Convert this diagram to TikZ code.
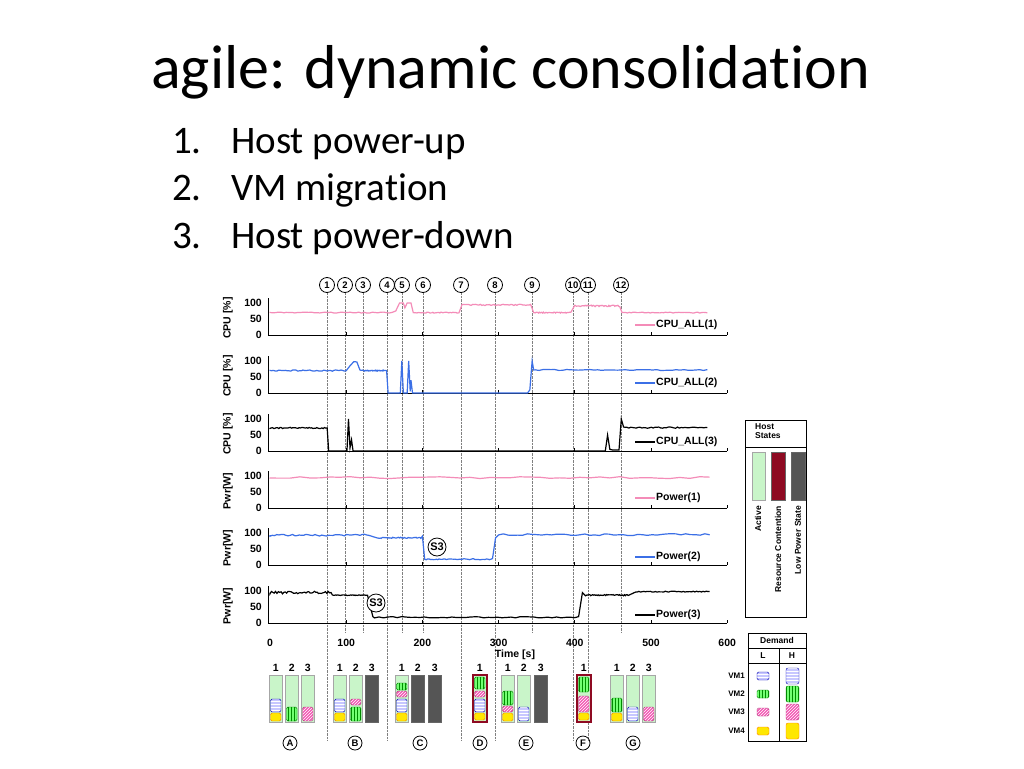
\documentclass[tikz,border=0pt]{standalone}
\usepackage{fontspec}
\setmainfont[Ligatures={NoCommon,NoDiscretionary,NoRare,NoContextual}]{Carlito}
\newfontfamily\hv{Liberation Sans}
\usetikzlibrary{patterns}
\definecolor{cpink}{HTML}{F48CB8}
\definecolor{cblue}{HTML}{3B6FE6}
\definecolor{actv}{HTML}{C9F5C9}
\definecolor{dred}{HTML}{8E0A22}
\definecolor{dgray}{HTML}{555555}
\newcommand\sg[4]{-- plot[domain=#1:#2,samples=45] (\x,{#3+#4*rand})}
\newcommand\blk[4]{\draw[#4,rounded corners=1.5pt] ({#1+1.5},#2) rectangle ({#1+12},#3);}
\begin{document}
\begin{tikzpicture}[x=1pt,y=-1pt,
  lab/.style={font=\hv\bfseries\fontsize{10.5}{11}\selectfont,inner sep=1pt},
  evc/.style={circle,draw,thick,inner sep=0pt,minimum size=15pt,font=\hv\bfseries\fontsize{9.5}{9.5}\selectfont},
  evl/.style={densely dotted,gray,thin},
  vmone/.style={draw=blue!70!black,preaction={fill=blue!22},pattern=horizontal lines,pattern color=white},
  vmtwo/.style={draw=green!50!black,preaction={fill=green!55},pattern=vertical lines,pattern color=green!55!black},
  vmthree/.style={draw=magenta!70!black,preaction={fill=magenta!65},pattern=north east lines,pattern color=white},
  vmfour/.style={draw=orange,fill=yellow!90!orange},
  hostA/.style={draw=gray!70,fill=actv},
  hostL/.style={draw=gray!80!black,fill=dgray},
  hostR/.style={draw=dred,line width=2pt,fill=actv}]
\useasboundingbox (0,0) rectangle (1024,768);
\fill[white] (0,0) rectangle (1024,768);
\node[anchor=base west,font=\fontsize{62}{68}\selectfont,inner sep=0] (title) at (151,88) {agile: dynamic consolidation};
\foreach \i/\yy/\tt in {1/153/Host power-up,2/200/VM migration,3/248/Host power-down}{
  \node[anchor=base west,font=\fontsize{39}{42}\selectfont,inner sep=0] (n\i) at (172,\yy) {\i.};
  \node[anchor=base west,font=\fontsize{39}{42}\selectfont,inner sep=0] (l\i) at (231,\yy) {\tt};
}
% events
\foreach \n/\xx/\d in {1/327/740,2/345/632,3/363/632,4/387/740,5/402/632,6/423/632,7/461/740,8/495/740,9/532/632,10/573/740,11/588/740,12/621/632}{
  \node[evc] (e\n) at (\xx,285) {\n};
  \coordinate (f\n) at (\xx,\d);
  \draw[evl] (e\n.south) -- (f\n);
}
% panels
\foreach \p/\yz/\lb in {1/335/CPU [\%],2/393/CPU [\%],3/451/CPU [\%],4/508/Pwr[W],5/565/Pwr[W],6/623/Pwr[W]}{
  \draw[thick] (268,\yz-37) -- (268,\yz) -- (727,\yz);
  \foreach \k in {1,...,6} \draw[thick] ({270+76.2*\k},\yz) -- ({270+76.2*\k},\yz-3);
  \node[lab,anchor=east] (t100\p) at (263,\yz-32) {100};
  \node[lab,anchor=east] (t50\p) at (263,\yz-16) {50};
  \node[lab,anchor=east] (t0\p) at (263,\yz) {0};
  \node[lab,rotate=90] (yl\p) at (228,\yz-17) {\lb};
}
\pgfmathsetseed{7}
\begin{scope}[shift={(270,335)},x=0.762pt,y=0.32pt,line width=1.2pt,cpink]
\draw (0,70)\sg{0}{160}{70}{1.5} -- (165,75) -- (170,100) -- (175,100)--(177,85)--(180,100)--(185,100)--(188,70)\sg{190}{248}{70}{1.5} --(252,95)\sg{254}{342}{94}{2} --(346,70)\sg{348}{395}{70}{1.5}--(400,93)\sg{402}{459}{91}{2.5}--(462,70)\sg{464}{574}{70}{1.5};
\end{scope}
\begin{scope}[shift={(270,393)},x=0.762pt,y=0.32pt,line width=1.2pt,cblue]
\draw (0,70)\sg{0}{100}{70}{2} --(105,85)--(110,98)--(114,97)--(118,72)\sg{120}{151}{70}{1.5}--(153,70)--(155,0)--(171,0)--(173,100)--(175,0)--(180,0)--(182,100)--(184,5)--(185,40)--(187,0)--(338,0)--(341,10)--(344,100)--(346,72)\sg{348}{574}{72}{1.5};
\end{scope}
\begin{scope}[shift={(270,451)},x=0.762pt,y=0.32pt,line width=1.2pt,black]
\draw (0,72)\sg{0}{73}{72}{2}--(75,72)--(77,0)--(101,0)--(103,100)--(105,10)--(107,35)--(109,0)--(440,0)--(443,50)--(446,5)--(450,3)--(458,3)--(461,100)--(464,75)\sg{466}{574}{73}{2};
\end{scope}
\begin{scope}[shift={(270,508)},x=0.762pt,y=0.32pt,line width=1.2pt,cpink]
\draw (0,95)\sg{0}{577}{95}{3};
\end{scope}
\begin{scope}[shift={(270,565)},x=0.762pt,y=0.32pt,line width=1.2pt,cblue]
\draw (0,93)\sg{0}{130}{93}{3}--(140,85)\sg{142}{198}{85}{2}--(200,90)--(203,18)\sg{205}{288}{18}{1.5}--(292,20)--(296,85)\sg{300}{577}{95}{3};
\end{scope}
\begin{scope}[shift={(270,623)},x=0.762pt,y=0.32pt,line width=1.2pt,black]
\draw (0,95)\sg{0}{80}{95}{4}\sg{82}{128}{87}{1}--(135,20)\sg{137}{400}{18}{2}--(405,20)--(410,95)--(414,85)\sg{416}{470}{87}{2}--(480,97)\sg{482}{577}{98}{1.5};
\end{scope}
\node[evc,fill=white,minimum size=18pt,font=\hv\bfseries\fontsize{11}{11}\selectfont] (s3a) at (437,547) {S3};
\node[evc,fill=white,minimum size=18pt,font=\hv\bfseries\fontsize{11}{11}\selectfont] (s3b) at (376,603) {S3};
% legends
\foreach \yy/\cc/\tt in {325/cpink/CPU\_ALL(1),383/cblue/CPU\_ALL(2),442/black/CPU\_ALL(3),498/cpink/Power(1),557/cblue/Power(2),615/black/Power(3)}{
  \node[lab,anchor=west] (lg\yy) at (655,\yy) {\tt};
  \coordinate (lc\yy) at (635,\yy);
  \draw[\cc,line width=1.2pt] (lc\yy) -- (lg\yy.west);
}
\foreach \k in {0,...,6}{\pgfmathtruncatemacro\v{100*\k}\node[lab] (xt\k) at ({270+76.2*\k},643) {\v};}
\node[lab] (xlab) at (515,655) {Time [s]};
% host states legend
\draw (745,420) rectangle (806,617);
\draw (745,447) -- (806,447);
\node[lab,font=\hv\bfseries\fontsize{8.5}{9}\selectfont,align=left,anchor=north west] (hs) at (754,422) {Host\\States};
\draw[hostA] (752,452) rectangle (765,500);
\draw[draw=gray!80!black,fill=dred] (771,452) rectangle (785,500);
\draw[hostL] (791,452) rectangle (805,500);
\node[lab,font=\hv\bfseries\fontsize{8.5}{9}\selectfont,rotate=90,anchor=east] (ha) at (758,505) {Active};
\node[lab,font=\hv\bfseries\fontsize{8.5}{9}\selectfont,rotate=90,anchor=east] (hr) at (778,505) {Resource Contention};
\node[lab,font=\hv\bfseries\fontsize{8.5}{9}\selectfont,rotate=90,anchor=east] (hl) at (798,505) {Low Power State};
% demand table
\draw (748,633) rectangle (806,741);
\draw (748,648) -- (806,648);
\draw (748,663) -- (806,663);
\draw (779,648) -- (779,741);
\node[lab,font=\hv\bfseries\fontsize{8.5}{9}\selectfont] (dm) at (777,640) {Demand};
\node[lab,font=\hv\bfseries\fontsize{8.5}{9}\selectfont] (dL) at (763,656) {L};
\node[lab,font=\hv\bfseries\fontsize{8.5}{9}\selectfont] (dH) at (792,656) {H};
\foreach \i/\yy/\s in {1/676/vmone,2/694/vmtwo,3/712/vmthree,4/731/vmfour}{
  \node[lab,font=\hv\bfseries\fontsize{8}{8}\selectfont,anchor=east] (vm\i) at (746,\yy) {VM\i};
  \draw[\s,rounded corners=1.5pt] (757,\yy-4) rectangle (769,\yy+4);
  \draw[\s,rounded corners=2pt] (786,\yy-8) rectangle (799,\yy+8);
}
% bars
\newcommand\col[2]{\draw[#2] (#1,675) rectangle ({#1+13.5},722);}
\foreach \x/\s in {269/hostA,285/hostA,301/hostA,333/hostA,349/hostA,365/hostL,395/hostA,411/hostL,428/hostL,501/hostA,517/hostA,534/hostL,610/hostA,626/hostA,642/hostA}{\col{\x}{\s}}
\col{473}{hostR}
\col{577}{hostR}
\foreach \x/\n in {269/1,285/2,301/3,333/1,349/2,365/3,395/1,411/2,428/3,473/1,501/1,517/2,534/3,577/1,610/1,626/2,642/3}{\node[lab] at ({\x+6.75},668) {\n};}
% A
\blk{269}{713}{721}{vmfour}\blk{269}{699}{712}{vmone}\blk{285}{707}{721}{vmtwo}\blk{301}{707}{721}{vmthree}
% B
\blk{333}{713}{721}{vmfour}\blk{333}{699}{712}{vmone}\blk{349}{707}{721}{vmtwo}\blk{349}{699}{705}{vmthree}
% C
\blk{395}{713}{721}{vmfour}\blk{395}{699}{712}{vmone}\blk{395}{691}{697}{vmthree}\blk{395}{683}{690}{vmtwo}
% D
\blk{473}{713}{720}{vmfour}\blk{473}{699}{712}{vmone}\blk{473}{691}{697}{vmthree}\blk{473}{677}{689}{vmtwo}
% E
\blk{501}{713}{721}{vmfour}\blk{501}{706}{712}{vmthree}\blk{501}{691}{705}{vmtwo}\blk{517}{707}{721}{vmone}
% F
\blk{577}{713}{720}{vmfour}\blk{577}{696}{712}{vmthree}\blk{577}{677}{692}{vmtwo}
% G
\blk{610}{713}{721}{vmfour}\blk{610}{698}{712}{vmtwo}\blk{626}{707}{721}{vmone}\blk{642}{707}{721}{vmthree}
\foreach \x/\L in {290/A,355/B,420/C,480/D,526/E,583/F,633/G}{\node[evc,minimum size=14pt] (g\L) at (\x,743) {\L};}
\end{tikzpicture}
\end{document}
